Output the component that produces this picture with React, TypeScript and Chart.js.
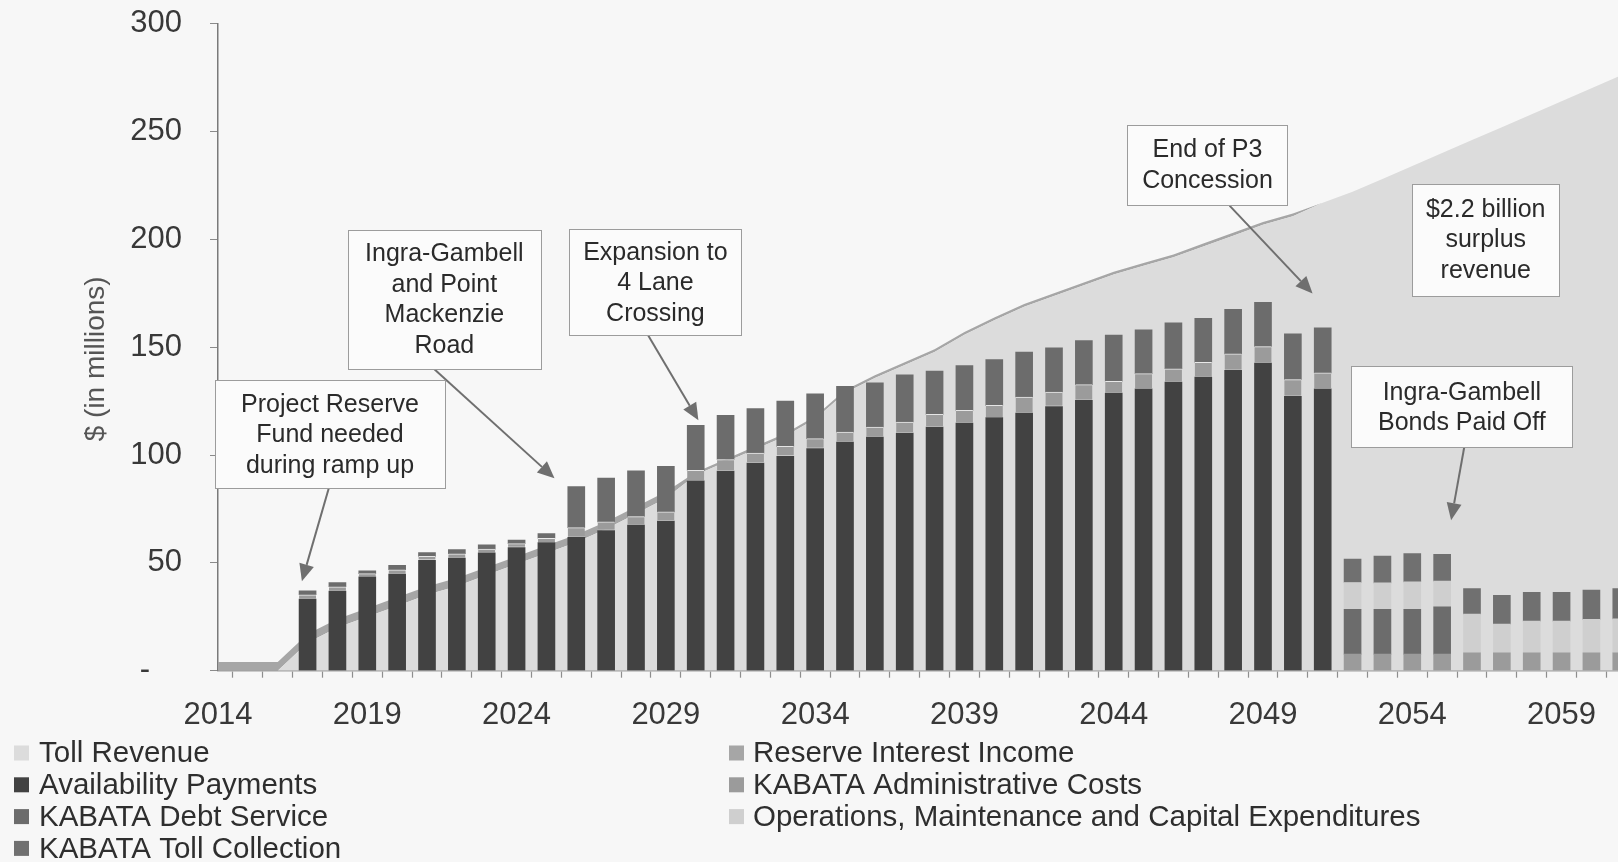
import React, { useEffect, useRef } from 'react';
import { Chart, registerables } from 'chart.js';

Chart.register(...registerables);

// ---------- DATA ----------
const YEARS = [
  '2014', '2015', '2016', '2017', '2018', '2019', '2020', '2021', '2022', '2023',
  '2024', '2025', '2026', '2027', '2028', '2029', '2030', '2031', '2032', '2033',
  '2034', '2035', '2036', '2037', '2038', '2039', '2040', '2041', '2042', '2043',
  '2044', '2045', '2046', '2047', '2048', '2049', '2050', '2051', '2052', '2053',
  '2054', '2055', '2056', '2057', '2058', '2059', '2060', '2061', '2062', '2063',
];

const TOLL_REVENUE = [
  0, 0, 0, 13, 20, 25, 30, 35.2, 39.2, 44.4,
  49.5, 54.5, 59.6, 65.7, 72.8, 80, 90.7, 96.7, 102.7, 108.7,
  116.7, 128.7, 135.7, 141.7, 147.7, 155.7, 162.5, 168.7, 173.7, 178.7,
  183.7, 187.7, 191.7, 196.7, 201.7, 206.7, 210.7, 217, 222, 228,
  234, 240, 246, 252, 258, 264, 270, 276, 282, 288,
];

const RESERVE_INTEREST = [
  4, 4, 4, 4, 4, 4, 4, 3.8, 3.8, 3.6,
  3.5, 3.5, 3.4, 3.3, 3.2, 3, 1.3, 1.3, 1.3, 1.3,
  1.3, 1.3, 1.3, 1.3, 1.3, 1.3, 1.3, 1.3, 1.3, 1.3,
  1.3, 1.3, 1.3, 1.3, 1.3, 1.3, 1.3, 0, 0, 0,
  0, 0, 0, 0, 0, 0, 0, 0, 0, 0,
];

const AVAILABILITY_PAYMENTS = [
  null, null, null, 33.2, 36.9, 43.5, 44.8, 51.2, 52.2, 54.6,
  57.1, 59.4, 61.8, 65, 67.5, 69.4, 88, 92.6, 96.3, 99.4,
  103, 106, 108.3, 110.2, 113, 114.8, 117.3, 119.4, 122.5, 125.3,
  128.7, 130.7, 133.8, 136.1, 139.2, 142.6, 127.2, 130.7, null, null,
  null, null, null, null, null, null, null, null, null, null,
];

const ADMIN_COSTS = [
  null, null, null, 2, 2, 1.5, 2, 1.8, 2, 1.8,
  1.8, 2, 4.5, 4, 4, 4.2, 4.9, 5.3, 4.6, 4.6,
  4.6, 4.6, 4.7, 5.1, 5.8, 5.9, 5.7, 7.5, 6.7, 7.3,
  5.5, 7, 6.2, 6.9, 7.7, 7.7, 7.8, 7.4, 7.7, 7.7,
  7.7, 7.7, 8.3, 8.3, 8.3, 8.3, 8.3, 8.3, 8.3, 8.3,
];

const DEBT_SERVICE = [
  null, null, null, 1.8, 2, 1.3, 2.1, 1.8, 2, 1.9,
  1.7, 2.2, 19.1, 20.3, 21.2, 21.2, 20.8, 20.5, 20.6, 21,
  20.8, 21.2, 20.5, 21.9, 20.1, 20.8, 21.2, 20.8, 20.5, 20.5,
  21.4, 20.3, 21.3, 20.4, 20.6, 20.5, 21.2, 20.9, 20.7, 20.7,
  20.7, 21.9, null, null, null, null, null, null, null, null,
];

const OPERATIONS = [
  null, null, null, null, null, null, null, null, null, null,
  null, null, null, null, null, null, null, null, null, null,
  null, null, null, null, null, null, null, null, null, null,
  null, null, null, null, null, null, null, null, 12.5, 12.3,
  12.8, 11.9, 17.9, 13.3, 14.7, 14.7, 15.5, 15.7, 15.8, 16,
];

const TOLL_COLLECTION = [
  null, null, null, null, null, null, null, null, null, null,
  null, null, null, null, null, null, null, null, null, null,
  null, null, null, null, null, null, null, null, null, null,
  null, null, null, null, null, null, null, null, 10.8, 12.4,
  13.1, 12.5, 11.9, 13.4, 13.3, 13.3, 13.6, 14.1, 14, 14.2,
];

const LEGEND_LEFT = ['Toll Revenue', 'Availability Payments', 'KABATA Debt Service', 'KABATA Toll Collection'];
const LEGEND_RIGHT = ['Reserve Interest Income', 'KABATA Administrative Costs', 'Operations, Maintenance and Capital Expenditures'];

const ANNOTATIONS = [
  { lines: ['Project Reserve', 'Fund needed', 'during ramp up'], x: 2017.75, y: 109.6, w: 230, h: 108, from: [2017.71, 84.6], to: [2016.81, 41.5] },
  { lines: ['Ingra-Gambell', 'and Point', 'Mackenzie', 'Road'], x: 2021.58, y: 172.3, w: 193, h: 139, from: [2021.22, 140.1], to: [2025.27, 89.2] },
  { lines: ['Expansion to', '4 Lane', 'Crossing'], x: 2028.65, y: 180, w: 172, h: 106, from: [2028.41, 155.4], to: [2030.09, 116.1] },
  { lines: ['End of P3', 'Concession'], x: 2047.14, y: 234.6, w: 160, h: 80, from: [2047.88, 215.6], to: [2050.66, 174.9] },
  { lines: ['$2.2 billion', 'surplus', 'revenue'], x: 2056.46, y: 199.9, w: 147, h: 112, from: null, to: null },
  { lines: ['Ingra-Gambell', 'Bonds Paid Off'], x: 2055.66, y: 122.3, w: 221, h: 81, from: [2055.74, 103.6], to: [2055.3, 69.8] },
];

// ---------- STYLE ----------
const FONT = "'Liberation Sans', Arial, Helvetica, sans-serif";
const C_TOLL = '#dcdcdc';
const C_RESERVE = '#a6a6a6';
const C_AP = '#424242';
const C_ADMIN = '#9b9b9b';
const C_DEBT = '#6c6c6c';
const C_OM = '#cfcfcf';
const C_COLL = '#707070';
const FIRST_YEAR = 2014;
const SHIFT = 23; // canvas is drawn this many px above the page top
const CANVAS_W = 1700;
const CANVAS_H = 862 + SHIFT;

const annotationPlugin = {
  id: 'boxes',
  afterDatasetsDraw(chart: any) {
    const { ctx, scales } = chart;
    const xs = scales.x;
    const ys = scales.y;
    const px = (yr: number) => xs.getPixelForValue(yr - FIRST_YEAR);
    const py = (v: number) => ys.getPixelForValue(v);
    ctx.save();
    ANNOTATIONS.forEach((a) => {
      if (!a.from || !a.to) return;
      const x1 = px(a.from[0]);
      const y1 = py(a.from[1]);
      const x2 = px(a.to[0]);
      const y2 = py(a.to[1]);
      const ang = Math.atan2(y2 - y1, x2 - x1);
      const headLen = 17;
      const headW = 7.5;
      const bx = x2 - headLen * Math.cos(ang);
      const by = y2 - headLen * Math.sin(ang);
      ctx.strokeStyle = '#6f6f6f';
      ctx.fillStyle = '#6f6f6f';
      ctx.lineWidth = 2;
      ctx.beginPath();
      ctx.moveTo(x1, y1);
      ctx.lineTo(bx, by);
      ctx.stroke();
      ctx.beginPath();
      ctx.moveTo(x2, y2);
      ctx.lineTo(bx + headW * Math.sin(ang), by - headW * Math.cos(ang));
      ctx.lineTo(bx - headW * Math.sin(ang), by + headW * Math.cos(ang));
      ctx.closePath();
      ctx.fill();
    });
    ANNOTATIONS.forEach((a) => {
      const cx = px(a.x);
      const cy = py(a.y);
      const left = Math.round(cx - a.w / 2) + 0.5;
      const top = Math.round(cy - a.h / 2) + 0.5;
      ctx.fillStyle = '#fbfbfb';
      ctx.fillRect(left, top, a.w, a.h);
      ctx.strokeStyle = '#9c9c9c';
      ctx.lineWidth = 1;
      ctx.strokeRect(left, top, a.w, a.h);
      ctx.fillStyle = '#2a2a2a';
      ctx.font = `25px ${FONT}`;
      ctx.textAlign = 'center';
      ctx.textBaseline = 'middle';
      const lh = 30.5;
      const start = cy - ((a.lines.length - 1) * lh) / 2;
      a.lines.forEach((t, i) => ctx.fillText(t, cx, start + i * lh + 1));
    });
    ctx.restore();
  },
};

const legendPlugin = {
  id: 'customLegend',
  afterDraw(chart: any) {
    const { ctx } = chart;
    const colorOf = (label: string) => {
      const ds = chart.data.datasets.find((d: any) => d.label === label);
      return ds ? ds.backgroundColor : '#999';
    };
    ctx.save();
    ctx.font = `29.5px ${FONT}`;
    ctx.textBaseline = 'middle';
    ctx.textAlign = 'left';
    const rowY = (i: number) => SHIFT + 753 + i * 31.8;
    LEGEND_LEFT.forEach((label, i) => {
      ctx.fillStyle = colorOf(label);
      ctx.fillRect(14, rowY(i) - 7.5, 15, 15);
      ctx.fillStyle = '#2e2e2e';
      ctx.fillText(label, 39, rowY(i) + 1);
    });
    LEGEND_RIGHT.forEach((label, i) => {
      ctx.fillStyle = colorOf(label);
      ctx.fillRect(729, rowY(i) - 7.5, 15, 15);
      ctx.fillStyle = '#2e2e2e';
      ctx.fillText(label, 753, rowY(i) + 1);
    });
    ctx.restore();
  },
};

export default function App() {
  const ref = useRef<HTMLCanvasElement | null>(null);

  useEffect(() => {
    if (!ref.current) return;
    const bar = (label: string, data: (number | null)[], color: string, extra: any = {}) => ({
      type: 'bar' as const,
      label,
      data,
      backgroundColor: color,
      borderWidth: 0,
      barThickness: 17,
      order: 1,
      ...extra,
    });
    const chart = new Chart(ref.current, {
      type: 'bar',
      data: {
        labels: YEARS,
        datasets: [
          {
            type: 'line',
            label: 'Toll Revenue',
            data: TOLL_REVENUE,
            backgroundColor: C_TOLL,
            borderWidth: 0,
            pointRadius: 0,
            fill: 'origin',
            tension: 0,
            order: 2,
          } as any,
          {
            type: 'line',
            label: 'Reserve Interest Income',
            data: RESERVE_INTEREST,
            backgroundColor: C_RESERVE,
            borderWidth: 0,
            pointRadius: 0,
            fill: '-1',
            tension: 0,
            order: 2,
          } as any,
          bar('Availability Payments', AVAILABILITY_PAYMENTS, C_AP),
          bar('KABATA Administrative Costs', ADMIN_COSTS, C_ADMIN, {
            borderSkipped: false,
            borderColor: 'rgba(240,240,240,0.9)',
            borderWidth: (c: any) => (c.dataIndex <= 37 ? { top: 1, bottom: 1, left: 0, right: 0 } : 0),
          }),
          bar('KABATA Debt Service', DEBT_SERVICE, C_DEBT),
          bar('Operations, Maintenance and Capital Expenditures', OPERATIONS, C_OM),
          bar('KABATA Toll Collection', TOLL_COLLECTION, C_COLL),
        ],
      },
      options: {
        animation: false,
        responsive: false,
        maintainAspectRatio: false,
        layout: { padding: { top: 0, right: 15, bottom: 0, left: 0 } },
        plugins: { legend: { display: false }, tooltip: { enabled: false } },
        scales: {
          x: {
            type: 'category',
            offset: false,
            stacked: true,
            grid: { display: true, drawOnChartArea: false, drawTicks: true, tickLength: 7, color: '#8e8e8e', tickWidth: 1.2 },
            border: { display: true, color: '#a0a0a0', width: 1.5 },
            ticks: {
              autoSkip: false,
              maxRotation: 0,
              minRotation: 0,
              padding: 19,
              color: '#383838',
              font: { family: FONT, size: 31 },
              callback: (_v: any, i: number) => (i % 5 === 0 ? YEARS[i] : ''),
            },
            afterFit: (s: any) => { s.height = 862 - 670.7; },
          },
          y: {
            stacked: true,
            min: 0,
            max: 300,
            ticks: {
              stepSize: 50,
              padding: 28,
              color: '#383838',
              font: { family: FONT, size: 31 },
              callback: (v: any) => (v === 0 ? '-   \u2009' : String(v)),
            },
            grid: { display: true, drawOnChartArea: false, drawTicks: true, tickLength: 8, color: '#8a8a8a' },
            border: { display: true, color: '#7a7a7a', width: 1.5 },
            title: {
              display: true,
              text: '$ (in millions)   ',
              color: '#555555',
              font: { family: FONT, size: 28 },
              padding: { top: 79, bottom: 0 },
            },
            afterFit: (s: any) => { s.width = 218; },
          },
        },
      } as any,
      plugins: [annotationPlugin, legendPlugin],
    });
    return () => chart.destroy();
  }, []);

  return (
    <div
      style={{
        position: 'fixed',
        left: 0,
        top: 0,
        width: 1618,
        height: 862,
        overflow: 'hidden',
        background: '#f7f7f7',
      }}
    >
      <canvas
        ref={ref}
        width={CANVAS_W}
        height={CANVAS_H}
        style={{ display: 'block', position: 'absolute', left: 0, top: -SHIFT }}
      />
    </div>
  );
}
